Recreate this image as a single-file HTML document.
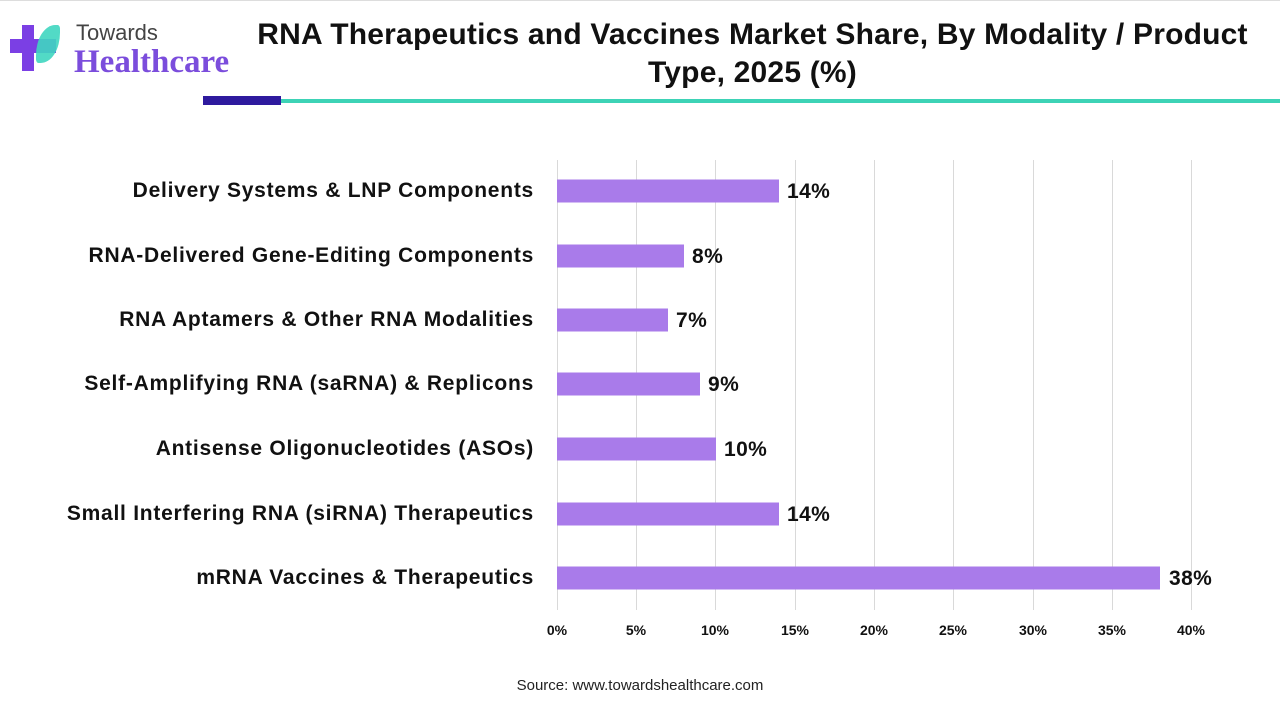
<!DOCTYPE html>
<html><head><style>
body{margin:0;width:1280px;height:720px;background:#fff;position:relative;overflow:hidden;font-family:"Liberation Sans",sans-serif}
.a{position:absolute}
.lbl{position:absolute;right:746px;font-weight:bold;font-size:21px;letter-spacing:0.75px;color:#111;white-space:nowrap;transform:translateY(-50%)}
.bar{position:absolute;left:557px;height:23px;background:#a97bea;transform:translateY(-50%)}
.val{position:absolute;font-weight:bold;font-size:21px;letter-spacing:0.4px;color:#111;transform:translateY(-50%)}
.grid{position:absolute;top:160px;height:450px;width:1px;background:#d9d9d9}
.tick{position:absolute;top:622px;font-size:14px;font-weight:bold;color:#111;transform:translateX(-50%)}
</style></head><body>
<div class="a" style="left:0;top:0;width:1280px;height:1px;background:#ddd"></div>
<div class="a" style="left:22px;top:25px;width:12px;height:46px;background:#7b3fe4"></div>
<div class="a" style="left:10px;top:39px;width:46px;height:14px;background:#7b3fe4"></div>
<div class="a" style="left:36px;top:25px;width:24px;height:38px;background:#3fd6c0;border-radius:80% 10% 80% 10%;opacity:.9"></div>
<div class="a" style="left:76px;top:20px;font-size:22px;color:#444">Towards</div>
<div class="a" style="left:74px;top:44px;font-size:33px;font-weight:bold;color:#7b4ddc;font-family:'Liberation Serif',serif">Healthcare</div>
<div class="a" style="left:240px;top:16px;width:1025px;text-align:center;font-size:30px;font-weight:bold;letter-spacing:0.2px;color:#111;line-height:38px">RNA Therapeutics and Vaccines Market Share, By Modality / Product Type, 2025 (%)</div>
<div class="a" style="left:203px;top:96px;width:78px;height:9px;background:#2e1a9e"></div>
<div class="a" style="left:281px;top:99px;width:999px;height:4px;background:#3dd3b6"></div>

<div class="grid" style="left:557px"></div><div class="grid" style="left:636px"></div><div class="grid" style="left:715px"></div><div class="grid" style="left:795px"></div><div class="grid" style="left:874px"></div><div class="grid" style="left:953px"></div><div class="grid" style="left:1033px"></div><div class="grid" style="left:1112px"></div><div class="grid" style="left:1191px"></div>
<div class="tick" style="left:557px">0%</div><div class="tick" style="left:636px">5%</div><div class="tick" style="left:715px">10%</div><div class="tick" style="left:795px">15%</div><div class="tick" style="left:874px">20%</div><div class="tick" style="left:953px">25%</div><div class="tick" style="left:1033px">30%</div><div class="tick" style="left:1112px">35%</div><div class="tick" style="left:1191px">40%</div>

<div class="lbl" style="top:191px">Delivery Systems &amp; LNP Components</div><div class="bar" style="top:191px;width:222px"></div><div class="val" style="top:192px;left:787px">14%</div>
<div class="lbl" style="top:256px">RNA-Delivered Gene-Editing Components</div><div class="bar" style="top:256px;width:127px"></div><div class="val" style="top:257px;left:692px">8%</div>
<div class="lbl" style="top:320px">RNA Aptamers &amp; Other RNA Modalities</div><div class="bar" style="top:320px;width:111px"></div><div class="val" style="top:321px;left:676px">7%</div>
<div class="lbl" style="top:384px">Self-Amplifying RNA (saRNA) &amp; Replicons</div><div class="bar" style="top:384px;width:143px"></div><div class="val" style="top:385px;left:708px">9%</div>
<div class="lbl" style="top:449px">Antisense Oligonucleotides (ASOs)</div><div class="bar" style="top:449px;width:159px"></div><div class="val" style="top:450px;left:724px">10%</div>
<div class="lbl" style="top:514px">Small Interfering RNA (siRNA) Therapeutics</div><div class="bar" style="top:514px;width:222px"></div><div class="val" style="top:515px;left:787px">14%</div>
<div class="lbl" style="top:578px">mRNA Vaccines &amp; Therapeutics</div><div class="bar" style="top:578px;width:603px"></div><div class="val" style="top:579px;left:1169px">38%</div>

<div class="a" style="left:0;width:1280px;top:677px;text-align:center;font-size:15px;color:#222">Source: www.towardshealthcare.com</div>
</body></html>
